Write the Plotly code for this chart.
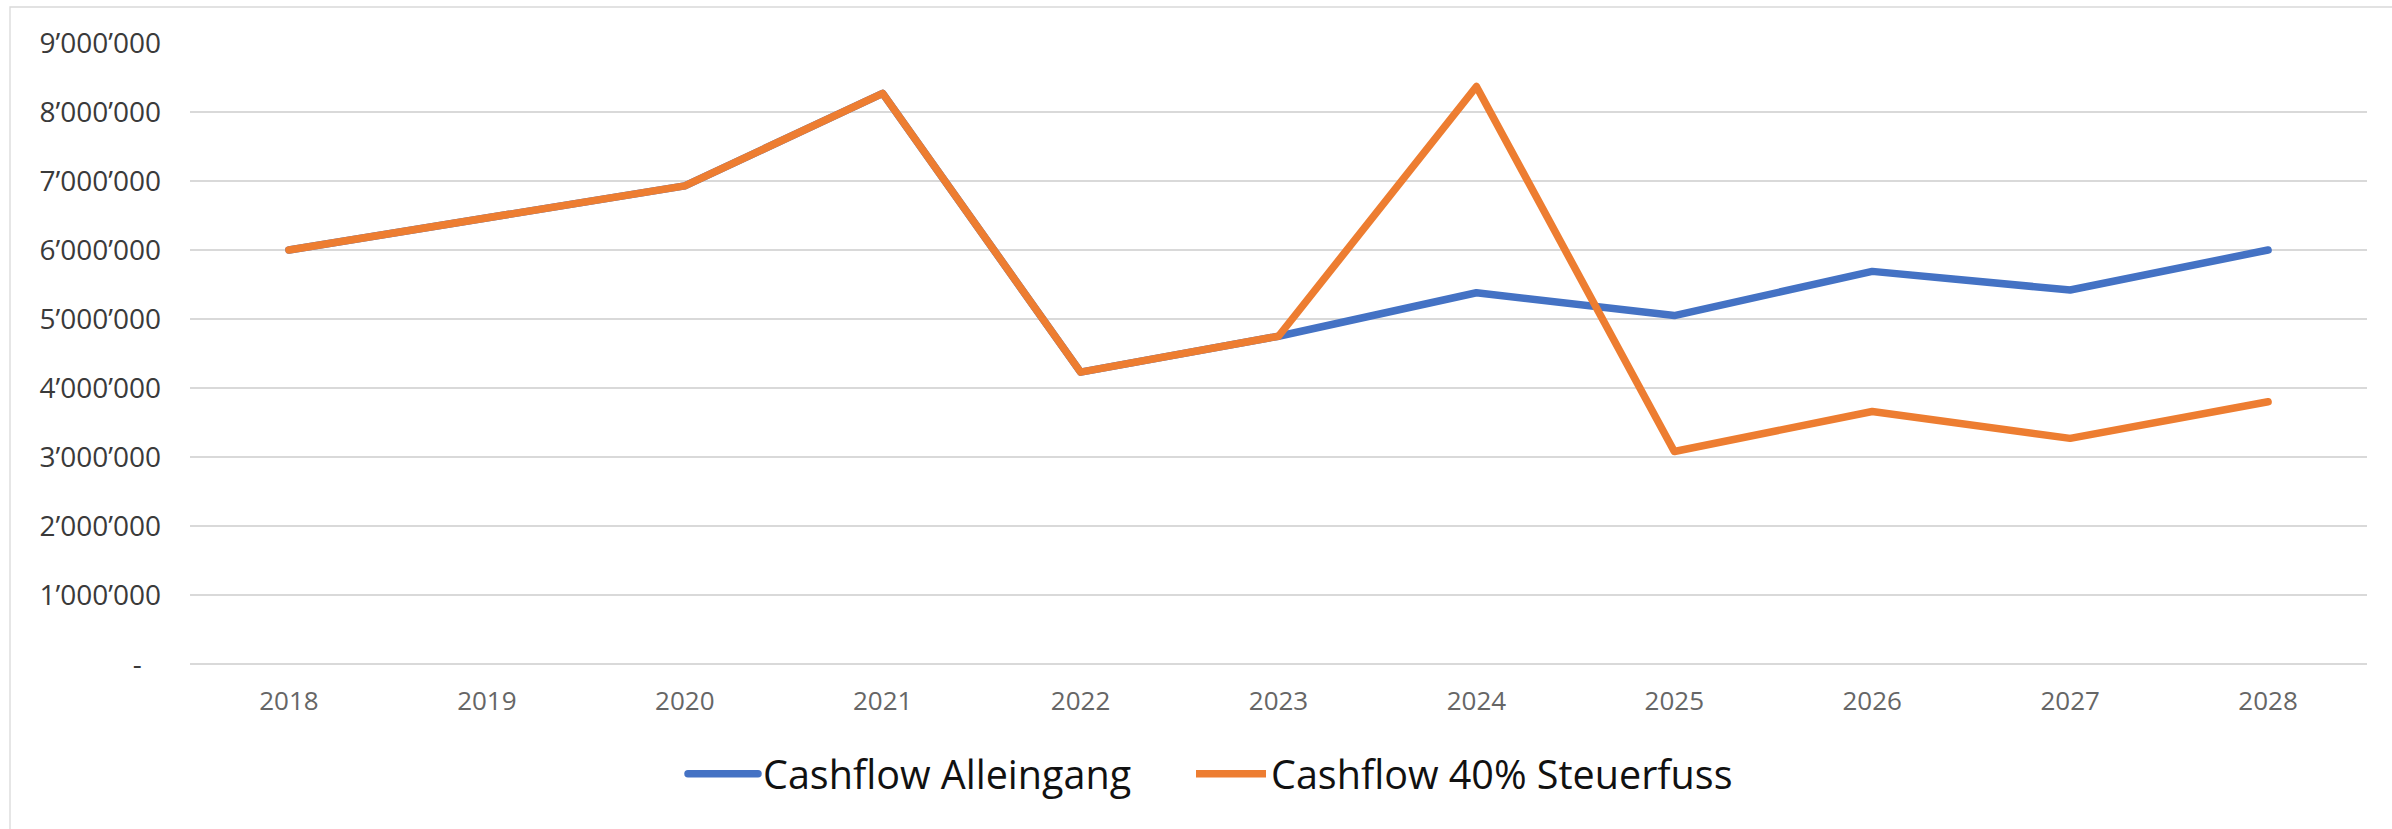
import plotly.graph_objects as go

# Years on the category axis
years = ["2018", "2019", "2020", "2021", "2022", "2023",
         "2024", "2025", "2026", "2027", "2028"]

# Cash flow per year (CHF)
cashflow_alleingang = [6_000_000, 6_470_000, 6_930_000, 8_270_000, 4_230_000, 4_750_000,
                       5_380_000, 5_050_000, 5_690_000, 5_420_000, 6_000_000]
cashflow_steuerfuss = [6_000_000, 6_470_000, 6_930_000, 8_270_000, 4_230_000, 4_750_000,
                       8_370_000, 3_080_000, 3_660_000, 3_270_000, 3_800_000]

# Y-axis ticks, Swiss thousands separator, zero shown as a dash
y_tickvals = [0, 1_000_000, 2_000_000, 3_000_000, 4_000_000,
              5_000_000, 6_000_000, 7_000_000, 8_000_000, 9_000_000]
y_ticktext = ["-\u00a0\u00a0\u2009", "1\u2019000\u2019000", "2\u2019000\u2019000", "3\u2019000\u2019000",
              "4\u2019000\u2019000", "5\u2019000\u2019000", "6\u2019000\u2019000",
              "7\u2019000\u2019000", "8\u2019000\u2019000", "9\u2019000\u2019000"]

BLUE = "#4472C4"
ORANGE = "#ED7D31"
GRID = "#D9D9D9"
FONT = "Open Sans, Lato, sans-serif"

W, H = 2392, 829
M_L, M_R, M_T, M_B = 190, 25, 43, 165

fig = go.Figure()
fig.add_trace(go.Scatter(x=years, y=cashflow_alleingang, mode="lines",
                         name="Cashflow Alleingang", legend="legend",
                         line=dict(color=BLUE, width=7.5)))
fig.add_trace(go.Scatter(x=years, y=cashflow_steuerfuss, mode="lines",
                         name="Cashflow 40% Steuerfuss", legend="legend2",
                         line=dict(color=ORANGE, width=7.5)))

plot_w = W - M_L - M_R
plot_h = H - M_T - M_B

# Light chart-area frame around the whole chart
fig.add_shape(type="rect", xref="paper", yref="paper",
              x0=(10 - M_L) / plot_w, x1=(W + 20 - M_L) / plot_w,
              y0=-(H + 20 - (H - M_B)) / plot_h, y1=(H - M_B - 7) / plot_h,
              line=dict(color=GRID, width=1.3), fillcolor="rgba(0,0,0,0)", layer="below")

legend_common = dict(orientation="h", xanchor="left", y=-0.125, yanchor="top",
                     font=dict(size=39.5, color="#111111", family=FONT),
                     itemwidth=70, bgcolor="rgba(0,0,0,0)")

fig.update_layout(
    width=W, height=H,
    margin=dict(l=M_L, r=M_R, t=M_T, b=M_B, pad=0),
    paper_bgcolor="white", plot_bgcolor="white",
    font=dict(family=FONT),
    showlegend=True,
    legend=dict(x=(683 - M_L) / plot_w, **legend_common),
    legend2=dict(x=(1191 - M_L) / plot_w, **legend_common),
    xaxis=dict(type="category", range=[-0.5, 10.5], showgrid=False, zeroline=False,
               showline=False, ticks="", ticklabelstandoff=19,
               tickfont=dict(size=26, color="#666666", family=FONT)),
    yaxis=dict(range=[0, 9_000_000], tickvals=y_tickvals, ticktext=y_ticktext,
               showgrid=True, gridcolor=GRID, gridwidth=1.5,
               zeroline=True, zerolinecolor=GRID, zerolinewidth=1.5,
               showline=False, ticks="", ticklabelstandoff=28,
               tickfont=dict(size=28, color="#3a3a3a", family=FONT)),
)

# Round joins/caps on the data lines
post = """
document.querySelectorAll('.scatterlayer path.js-line, .legend path.js-line').forEach(function(p){
  p.style.strokeLinejoin = 'round';
  p.style.strokeLinecap = 'round';
});
"""
fig.write_html("out.html", post_script=post)
